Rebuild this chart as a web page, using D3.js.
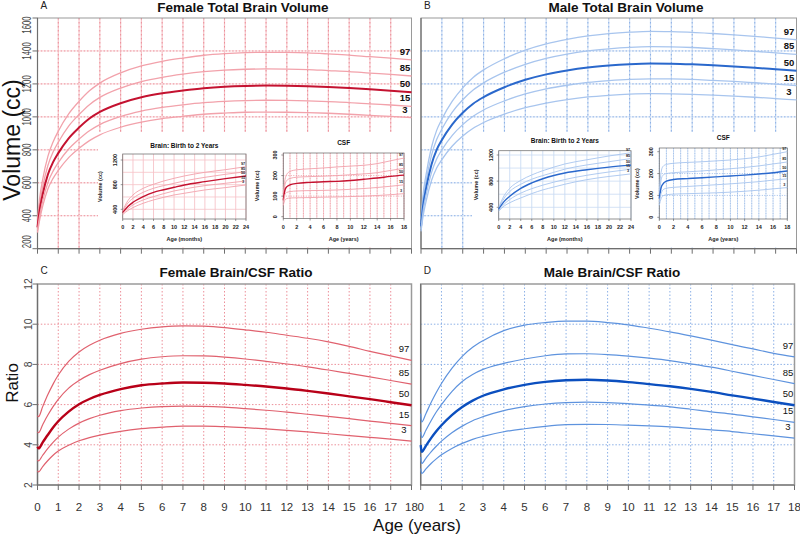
<!DOCTYPE html>
<html><head><meta charset="utf-8">
<script src="https://cdn.jsdelivr.net/npm/d3@7"></script>
<style>body{margin:0;background:#fff}svg{display:block}</style>
</head><body><svg id="c" width="800" height="536"></svg>
<script>
// ---------------- DATA ----------------
const percentiles = ["97", "85", "50", "15", "3"];
const ageTicks = [0,1,2,3,4,5,6,7,8,9,10,11,12,13,14,15,16,17,18];
const volumeTicks = [200,400,600,800,1000,1200,1400,1600];
const ratioTicks = [2,4,6,8,10,12];
const monthTicks = [0,2,4,6,8,10,12,14,16,18,20,22,24];
const csfYearTicks = [0,2,4,6,8,10,12,14,16,18];
const insetVolTicks = [400,800,1200];
const csfTicks = [0,100,200,300];

// Total brain volume (cc), ages in years
const volAges = [0,0.1,0.25,0.5,0.75,1,1.5,2,2.5,3,4,5,6,7,8,9,10,11,12,13,14,15,16,17,18];
const femVol97 = [372,503,620,760,848,913,1018,1094,1158,1205,1267,1309,1337,1357,1374,1384,1390,1392,1391,1388,1382,1375,1365,1356,1346];
const femVol85 = [352,467,575,705,787,846,944,1014,1074,1118,1175,1214,1240,1259,1274,1284,1289,1291,1290,1287,1281,1275,1266,1258,1248];
const femVol50 = [330,430,530,650,725,780,870,935,990,1030,1083,1119,1143,1160,1174,1183,1188,1190,1189,1186,1181,1175,1167,1159,1150];
const femVol15 = [312,398,490,601,671,722,805,865,916,953,1002,1035,1057,1073,1086,1094,1099,1101,1100,1097,1092,1087,1079,1072,1064];
const femVol3  = [298,372,458,562,627,675,753,809,856,891,937,968,989,1003,1016,1023,1028,1029,1028,1026,1022,1016,1009,1003,995];
const malVol97 = [378,528,654,814,918,986,1095,1176,1239,1285,1353,1405,1443,1470,1491,1505,1514,1519,1517,1513,1506,1498,1489,1478,1468];
const malVol85 = [356,495,614,765,862,926,1029,1104,1163,1206,1271,1319,1355,1381,1400,1413,1422,1426,1425,1421,1414,1407,1398,1388,1379];
const malVol50 = [335,460,570,710,800,860,955,1025,1080,1120,1180,1225,1258,1282,1300,1312,1320,1324,1323,1319,1313,1306,1298,1289,1280];
const malVol15 = [318,428,530,660,744,800,888,953,1004,1042,1097,1139,1170,1192,1209,1220,1228,1231,1230,1227,1221,1215,1207,1199,1190];
const malVol3  = [305,397,491,612,690,741,823,884,931,966,1017,1056,1084,1105,1121,1131,1138,1141,1140,1137,1132,1126,1119,1111,1103];

// Brain / CSF ratio
const ratioAges = [0,0.05,0.25,0.5,0.75,1,1.5,2,2.5,3,4,5,6,7,8,9,10,11,12,13,14,15,16,17,18];
const femRatio97 = [5.45,5.4,5.9,6.5,7.02,7.47,8.15,8.62,8.95,9.2,9.54,9.75,9.87,9.92,9.9,9.83,9.72,9.6,9.45,9.3,9.12,8.9,8.65,8.42,8.2];
const femRatio85 = [4.65,4.6,5.0,5.48,5.9,6.26,6.82,7.2,7.49,7.71,8.04,8.26,8.38,8.43,8.42,8.36,8.27,8.15,8.02,7.88,7.72,7.55,7.38,7.2,7.02];
const femRatio50 = [3.9,3.82,4.12,4.5,4.86,5.17,5.65,6.02,6.28,6.48,6.77,6.96,7.05,7.1,7.09,7.05,6.98,6.9,6.8,6.68,6.55,6.41,6.27,6.12,5.97];
const femRatio15 = [3.25,3.2,3.48,3.82,4.12,4.38,4.78,5.08,5.3,5.47,5.7,5.83,5.9,5.92,5.91,5.87,5.8,5.72,5.63,5.52,5.41,5.3,5.18,5.07,4.95];
const femRatio3  = [2.7,2.65,2.92,3.22,3.48,3.69,3.98,4.2,4.36,4.48,4.67,4.8,4.88,4.93,4.93,4.9,4.85,4.79,4.72,4.64,4.55,4.46,4.37,4.28,4.18];
const malRatio97 = [5.55,5.13,5.55,6.1,6.6,7.05,7.8,8.4,8.85,9.18,9.68,9.95,10.08,10.15,10.15,10.08,9.97,9.8,9.62,9.42,9.21,8.98,8.77,8.55,8.37];
const malRatio85 = [4.64,4.36,4.72,5.2,5.63,6.0,6.65,7.15,7.5,7.75,8.05,8.27,8.43,8.52,8.53,8.49,8.41,8.31,8.19,8.03,7.86,7.66,7.45,7.25,7.04];
const malRatio50 = [3.98,3.65,3.95,4.33,4.67,4.97,5.48,5.88,6.2,6.44,6.76,6.98,7.13,7.21,7.24,7.2,7.12,7.02,6.91,6.78,6.63,6.46,6.3,6.13,5.97];
const malRatio15 = [3.4,3.07,3.33,3.65,3.93,4.18,4.6,4.93,5.2,5.4,5.7,5.9,6.03,6.1,6.12,6.1,6.05,5.97,5.89,5.77,5.64,5.53,5.39,5.26,5.12];
const malRatio3  = [2.82,2.57,2.8,3.07,3.3,3.5,3.82,4.07,4.27,4.42,4.65,4.8,4.92,5.0,5.02,5.01,4.98,4.94,4.89,4.82,4.74,4.66,4.55,4.44,4.33];

// Inset: brain volume birth to 2 years (months)
const insetMonths = [0,1,2,4,6,8,10,12,16,20,24];
const femInf97 = [380,540,633,741,806,860,903,941,1000,1043,1092];
const femInf85 = [365,500,579,676,741,785,822,860,919,968,1011];
const femInf50 = [345,445,514,606,676,718,757,795,849,898,941];
const femInf15 = [330,410,471,552,606,655,698,730,784,822,860];
const femInf3  = [315,380,428,498,552,595,633,660,714,752,795];
const malInf97 = [400,580,690,812,895,960,1015,1063,1127,1185,1235];
const malInf85 = [385,540,641,753,830,885,935,984,1048,1097,1146];
const malInf50 = [370,490,568,690,773,837,887,925,975,1015,1045];
const malInf15 = [355,450,519,617,685,739,785,825,890,940,984];
const malInf3  = [340,420,470,543,610,666,710,753,823,872,911];

// Inset: CSF volume (cc), ages in years
const csfAges = [0,0.25,0.5,1,2,4,6,8,10,12,14,16,18];
const femCsf97 = [110,180,205,220,228,233,237,242,246,250,258,272,285];
const femCsf85 = [95,155,175,186,192,195,197,200,204,208,214,225,235];
const femCsf50 = [80,130,145,155,162,167,170,172,176,182,188,196,202];
const femCsf15 = [68,108,118,122,125,127,128,130,133,137,142,148,155];
const femCsf3  = [55,82,88,91,92,93,95,96,98,100,103,107,112];
const malCsf97 = [120,205,232,242,247,251,254,258,262,268,276,288,300];
const malCsf85 = [100,170,192,200,204,208,212,217,222,228,235,244,253];
const malCsf50 = [85,135,152,165,173,177,181,185,189,193,198,204,212];
const malCsf15 = [70,108,125,133,137,141,145,149,153,158,163,170,176];
const malCsf3  = [55,85,98,103,106,108,110,112,115,119,124,130,136];

// ---------------- DRAWING ----------------
const FONT = '"Liberation Sans", Arial, Helvetica, sans-serif';
const svg = d3.select("#c").attr("font-family", FONT);

const RED = {solid:"#f6c3c8", faint:"#fbe3e6", dot:"#ec8f99", light:"#f2a2ab", main:"#c41230", mid:"#e0616e", mainC:"#b80018"};
const BLUE = {solid:"#c9dbf3", faint:"#e4edf9", dot:"#8cb0e6", light:"#a8c5ee", main:"#2a68cc", mid:"#5e93de", mainC:"#0b4fbf"};

function pathFor(x, y, ages, vals) {
  return d3.line().x((d, i) => x(ages[i])).y(d => y(d)).curve(d3.curveMonotoneX)(vals);
}
function hline(g, x1, x2, yy, color, w, dash) {
  const l = g.append("line").attr("x1", x1).attr("x2", x2).attr("y1", yy).attr("y2", yy)
    .attr("stroke", color).attr("stroke-width", w);
  if (dash) l.attr("stroke-dasharray", dash);
  return l;
}
function vline(g, xx, y1, y2, color, w, dash) {
  const l = g.append("line").attr("x1", xx).attr("x2", xx).attr("y1", y1).attr("y2", y2)
    .attr("stroke", color).attr("stroke-width", w);
  if (dash) l.attr("stroke-dasharray", dash);
  return l;
}

function mainPanel(o) {
  const g = svg.append("g");
  const x = d3.scaleLinear().domain([0, 18]).range([o.left, o.right]);
  const y = d3.scaleLinear().domain(o.yDomain).range([o.bottom, o.top]);
  const th = o.theme;
  ageTicks.slice(1, -1).forEach(a => {
    if (o.solidGrid) vline(g, x(a), o.top, o.bottom, th.solid, 1.2);
    vline(g, x(a), o.top, o.bottom, th.dot, 1, o.solidGrid ? "1.5,2.5" : "1.5,2");
  });
  o.gridY.forEach(v => {
    if (o.solidGrid) hline(g, o.left, o.right, y(v), th.faint, 1.2);
    hline(g, o.left, o.right, y(v), th.dot, 1, "1.5,1.8");
  });
  if (o.box) g.append("rect").attr("x", o.box[0]).attr("y", o.box[1])
    .attr("width", o.box[2] - o.box[0]).attr("height", o.box[3] - o.box[1]).attr("fill", "#fff");
  g.append("rect").attr("x", o.left).attr("y", o.top).attr("width", o.right - o.left)
    .attr("height", o.bottom - o.top).attr("fill", "none").attr("stroke", "#9a9a9a").attr("stroke-width", o.frameW || 1);
  vline(g, o.left, o.top, o.bottom, "#6e6e6e", 1.2);
  hline(g, o.left, o.right, o.bottom, "#6e6e6e", 1.2);
  ageTicks.forEach(a => vline(g, x(a), o.bottom, o.bottom + 5, "#6e6e6e", 1));
  if (o.xLabels) {
    ageTicks.forEach(a => g.append("text").attr("x", x(a)).attr("y", o.bottom + 26)
      .attr("text-anchor", "middle").attr("font-size", 11.5).attr("fill", "#333").text(a));
  }
  if (o.yLabels) {
    o.yLabels.forEach(v => {
      hline(g, o.left - 5, o.left, y(v), "#6e6e6e", 1);
      const yy = Math.max(o.top + o.clampPad, Math.min(o.bottom - o.clampPad, y(v)));
      g.append("text").attr("transform", `translate(${o.left - o.yLabOff},${yy}) rotate(-90) scale(${o.yLabScale},1)`)
        .attr("text-anchor", "middle").attr("font-size", o.yLabSize).attr("fill", "#444").text(v);
    });
  }
  o.series.forEach((s, i) => {
    const isMid = percentiles[i] === "50";
    g.append("path").attr("d", pathFor(x, y, o.ages, s)).attr("fill", "none")
      .attr("stroke", isMid ? o.midColor : o.otherColor)
      .attr("stroke-width", isMid ? o.midW : o.otherW);
  });
  o.series.forEach((s, i) => {
    g.append("text").attr("x", o.labelX).attr("y", y(s[s.length - 1]) + o.labelDy)
      .attr("text-anchor", "middle").attr("font-size", 9.5).attr("font-weight", o.labelBold ? "bold" : "normal")
      .attr("fill", "#111").text(percentiles[i]);
  });
  g.append("text").attr("x", o.titleX).attr("y", o.titleY).attr("text-anchor", "middle")
    .attr("font-size", 13.5).attr("font-weight", "bold").attr("fill", "#111").text(o.title);
  g.append("text").attr("x", o.left + 3).attr("y", o.titleY - 3).attr("font-size", 10)
    .attr("fill", "#222").text(o.letter);
  return {x, y, g};
}

function inset(o) {
  const g = svg.append("g").attr("font-weight", "bold");
  const x = d3.scaleLinear().domain(o.xDomain).range([o.left, o.right]);
  const y = d3.scaleLinear().domain(o.yDomain).range(o.yRange);
  const th = o.theme;
  o.vGrid.forEach(v => {
    vline(g, x(v), o.top, o.bottom, th.solid, 0.9);
    if (o.dotV) vline(g, x(v), o.top, o.bottom, th.dot, 0.6, "1,1.5");
  });
  o.hGrid.forEach(v => {
    hline(g, o.left, o.right, y(v), o.csf ? th.dot : th.solid, 0.8, o.csf ? "1,1.5" : null);
  });
  g.append("rect").attr("x", o.left).attr("y", o.top).attr("width", o.right - o.left)
    .attr("height", o.bottom - o.top).attr("fill", "none").attr("stroke", "#777").attr("stroke-width", 0.8);
  o.series.forEach((s, i) => {
    const isMid = percentiles[i] === "50";
    g.append("path").attr("d", pathFor(x, y, o.ages, s)).attr("fill", "none")
      .attr("stroke", isMid ? th.main : th.light).attr("stroke-width", isMid ? 1.4 : 0.9);
  });
  o.series.forEach((s, i) => {
    g.append("text").attr("x", o.right - 3).attr("y", y(s[s.length - 1]) - 2)
      .attr("text-anchor", "middle").attr("font-size", 3.8).attr("fill", "#222").text(percentiles[i]);
  });
  o.xTicks.forEach(t => {
    vline(g, x(t), o.bottom, o.bottom + 2, "#555", 0.6);
    g.append("text").attr("x", x(t)).attr("y", o.bottom + 10).attr("text-anchor", "middle")
      .attr("font-size", 5.5).attr("fill", "#222").text(t);
  });
  o.yTicks.forEach(t => {
    hline(g, o.left - 2, o.left, y(t), "#555", 0.6);
    g.append("text").attr("transform", `translate(${o.left - 6},${y(t)}) rotate(-90)`)
      .attr("text-anchor", "middle").attr("font-size", 5.5).attr("fill", "#222").text(t);
  });
  g.append("text").attr("x", (o.left + o.right) / 2).attr("y", o.titleY).attr("text-anchor", "middle")
    .attr("font-size", 6.5).attr("fill", "#111").text(o.title);
  g.append("text").attr("x", (o.left + o.right) / 2).attr("y", o.bottom + 22).attr("text-anchor", "middle")
    .attr("font-size", 5.5).attr("fill", "#222").text(o.xlab);
  g.append("text").attr("transform", `translate(${o.yLabX},${(o.top + o.bottom) / 2}) rotate(-90)`)
    .attr("text-anchor", "middle").attr("font-size", 5.5).attr("fill", "#222").text("Volume (cc)");
}

// Panel A
mainPanel({left:37.5, right:411.5, top:18, bottom:248.7, yDomain:[200,1600], theme:RED, solidGrid:true,
  gridY:[400,600,800,1000,1200,1400], box:[98,132,411,247.5], ages:volAges,
  series:[femVol97,femVol85,femVol50,femVol15,femVol3], midColor:RED.main, otherColor:RED.light, midW:2, otherW:1.3,
  labelX:405, labelDy:-5, labelBold:true, yLabels:volumeTicks, clampPad:7, yLabScale:0.6, yLabSize:13, yLabOff:7,
  title:"Female Total Brain Volume", titleX:243, titleY:12, letter:"A"});
// Panel B
mainPanel({left:421, right:796.5, top:18, bottom:248.7, yDomain:[200,1600], theme:BLUE, solidGrid:true,
  gridY:[400,600,800,1000,1200,1400], box:[472,132,796,247.5], ages:volAges,
  series:[malVol97,malVol85,malVol50,malVol15,malVol3], midColor:BLUE.main, otherColor:BLUE.light, midW:2, otherW:1.3,
  labelX:789, labelDy:-5, labelBold:true,
  title:"Male Total Brain Volume", titleX:626, titleY:12, letter:"B"});
// Panel C
mainPanel({left:37.5, right:411.5, top:284, bottom:485, yDomain:[2,12], theme:RED, solidGrid:false,
  gridY:[4,6,8,10], ages:ratioAges, frameW:1.5,
  series:[femRatio97,femRatio85,femRatio50,femRatio15,femRatio3], midColor:RED.mainC, otherColor:RED.mid, midW:2.4, otherW:1.2,
  labelX:404, labelDy:-8, labelBold:false, yLabels:ratioTicks, clampPad:0, yLabScale:0.9, yLabSize:11.5, yLabOff:6, xLabels:true,
  title:"Female Brain/CSF Ratio", titleX:236, titleY:277, letter:"C"});
// Panel D
mainPanel({left:420.7, right:794.5, top:284, bottom:485, yDomain:[2,12], theme:BLUE, solidGrid:false,
  gridY:[4,6,8,10], ages:ratioAges, frameW:1.5,
  series:[malRatio97,malRatio85,malRatio50,malRatio15,malRatio3], midColor:BLUE.mainC, otherColor:BLUE.mid, midW:2.4, otherW:1.2,
  labelX:788, labelDy:-8, labelBold:false, xLabels:true,
  title:"Male Brain/CSF Ratio", titleX:612, titleY:277, letter:"D"});

// Insets
inset({left:122.7, right:246, top:154, bottom:219, xDomain:[0,24], yDomain:[400,1200], yRange:[209.3,160],
  theme:RED, vGrid:monthTicks, hGrid:[400,600,800,1000,1200], ages:insetMonths,
  series:[femInf97,femInf85,femInf50,femInf15,femInf3], xTicks:monthTicks, yTicks:insetVolTicks,
  title:"Brain: Birth to 2 Years", titleY:148, xlab:"Age (months)", yLabX:102});
inset({left:283.3, right:404, top:153, bottom:218.5, xDomain:[0,18], yDomain:[0,300], yRange:[216.7,155],
  theme:RED, vGrid:ageTicks, dotV:true, csf:true, hGrid:[100,200], ages:csfAges,
  series:[femCsf97,femCsf85,femCsf50,femCsf15,femCsf3], xTicks:csfYearTicks, yTicks:csfTicks,
  title:"CSF", titleY:144.5, xlab:"Age (years)", yLabX:259});
inset({left:498.7, right:631, top:150.7, bottom:219, xDomain:[0,24], yDomain:[400,1200], yRange:[207.3,155],
  theme:BLUE, vGrid:monthTicks, hGrid:[400,600,800,1000,1200], ages:insetMonths,
  series:[malInf97,malInf85,malInf50,malInf15,malInf3], xTicks:monthTicks, yTicks:insetVolTicks,
  title:"Brain: Birth to 2 Years", titleY:142.5, xlab:"Age (months)", yLabX:477.5});
inset({left:659.3, right:787.3, top:148, bottom:219, xDomain:[0,18], yDomain:[0,300], yRange:[217.3,151.7],
  theme:BLUE, vGrid:ageTicks, dotV:true, csf:true, hGrid:[100,200], ages:csfAges,
  series:[malCsf97,malCsf85,malCsf50,malCsf15,malCsf3], xTicks:csfYearTicks, yTicks:csfTicks,
  title:"CSF", titleY:139.5, xlab:"Age (years)", yLabX:638.5});

// Axis titles
svg.append("text").attr("transform", "translate(20,140) rotate(-90)").attr("text-anchor", "middle")
  .attr("font-size", 23).attr("fill", "#111").text("Volume (cc)");
svg.append("text").attr("transform", "translate(18,383) rotate(-90)").attr("text-anchor", "middle")
  .attr("font-size", 17).attr("fill", "#111").text("Ratio");
svg.append("text").attr("x", 417).attr("y", 531).attr("text-anchor", "middle")
  .attr("font-size", 17).attr("fill", "#111").text("Age (years)");
</script></body></html>
